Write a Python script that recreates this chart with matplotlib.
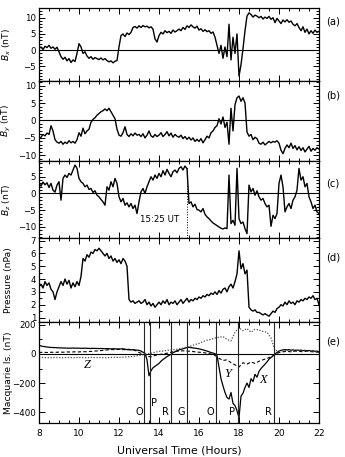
import numpy as np
import matplotlib
matplotlib.use("Agg")
import matplotlib.pyplot as plt
from matplotlib.ticker import MultipleLocator

# ---------------- data ----------------
t_start, t_end, t_step = 8.0, 22.0, 0.1
hours = np.round(np.arange(t_start, t_end + 1e-9, t_step), 2)

bx = [0.5, 1.0, 0.2, 1.2, 0.8, 1.5, 0.6, 1.0, 0.3, 0.9,
      -0.5, -2.0, -2.8, -2.2, -3.3, -2.6, -3.8, -3.0, -3.5, -1.0,
      2.0, 1.0, -1.0, -0.5, -1.8, -2.5, -2.0, -2.8, -2.3, -2.6,
      -2.9, -2.4, -3.0, -2.6, -3.2, -3.6, -3.3, -3.9, -3.4, -3.2,
      1.0, 4.5, 5.0, 4.2, 5.3, 4.8, 5.5, 7.0, 7.3, 6.8,
      7.5, 7.0, 7.6, 7.2, 7.4, 6.9, 7.2, 6.5, 3.5, 2.5,
      4.5, 5.5, 5.0, 6.0, 5.4, 5.8, 5.2, 6.2, 5.6, 6.0,
      6.5, 6.0, 7.0, 6.4, 7.5, 7.0, 7.8, 7.2, 6.8, 7.4,
      6.2, 6.6, 5.8, 6.3, 5.7, 6.0, 5.2, 5.6, 4.0, 1.5,
      -1.0, 1.5, -2.5, 1.0, -2.0, 8.0, -3.0, 4.0, -1.0, 5.0,
      -8.0, -4.5, 0.5, 6.0, 10.5, 11.5, 11.0, 10.2, 10.8, 10.5,
      10.0, 10.4, 9.6, 10.2, 9.8, 10.4, 9.5, 10.0, 8.5, 9.8,
      9.0, 8.2, 9.3, 8.7, 9.4, 8.6, 9.0, 8.0, 7.5, 8.2,
      7.0, 6.0, 7.2, 5.5, 6.5, 5.0, 6.0, 5.2, 6.2, 5.5,
      5.8]

by = [-5.2, -4.8, -4.0, -4.4, -3.6, -4.0, -1.5, -3.0, -5.5, -6.2,
      -6.5, -6.0, -6.8, -6.2, -6.6, -5.8, -6.4, -6.0, -6.5, -5.5,
      -3.5, -4.5, -2.2, -3.8, -3.0, -2.5, -0.5, 0.3, 0.8, 1.5,
      2.0, 2.5, 2.8, 3.3, 2.8, 3.5, 2.5, 1.5, 0.5, -2.5,
      -4.2, -4.5, -3.5, -1.8, -4.0, -4.6, -3.8, -4.4, -3.6, -4.2,
      -4.0, -4.6, -3.8, -5.0, -4.2, -3.0, -4.4, -4.8, -4.0, -4.6,
      -4.2, -3.5, -4.6, -4.0, -3.2, -4.4, -3.6, -4.8, -4.0, -4.5,
      -4.8, -4.2, -5.2, -4.6, -5.4, -4.8, -5.6, -5.0, -6.0, -5.4,
      -6.0, -5.2, -6.4, -5.5, -4.5, -5.0, -3.5, -3.0, -2.0, -1.5,
      0.5, -1.0, 1.0, -2.0, -0.5, -6.8, 3.5, -3.0, 4.5, 6.5,
      7.0, 5.5, 6.5, 5.0, -3.3, -4.5, -4.0, -5.5, -4.8, -5.2,
      -6.5, -6.8, -6.2, -7.0, -6.5, -6.0, -6.4, -6.0, -6.2, -5.8,
      -6.5, -8.5, -9.5, -8.0, -7.0, -7.8, -6.5, -8.0, -7.2, -8.4,
      -7.5, -8.6, -7.8, -9.0, -8.2, -7.4, -8.8, -8.0, -8.5, -7.8,
      -8.2]

bz = [3.0, 2.2, 3.4, 2.6, 3.2, 1.8, 3.0, 1.0, 0.4, 2.5,
      3.5, -2.0, 4.5, 5.5, 4.8, 6.0, 5.5, 7.0, 8.5, 7.5,
      4.5, 3.5, 3.0, 2.0, 2.5, 1.2, 1.5, 0.3, 0.8, -0.5,
      -1.0, -1.8, -2.5, -3.5, 2.0, 1.0, 3.5, 2.0, 4.5, 3.0,
      -1.0, -2.5, -1.5, -3.5, -2.8, -4.0, -3.0, -4.5, -3.5, -6.0,
      -2.5, 0.5, 1.5, 0.0, 2.0, 3.5, 5.0, 4.0, 5.5, 4.5,
      6.0, 5.0, 6.8, 5.5, 7.2, 6.0, 5.0, 6.5, 7.0, 6.2,
      7.5, 8.0, 7.0, 8.2, 7.4, -3.0, -2.5, -4.0, -3.2, -4.8,
      -5.0, -5.5, -4.5, -6.2, -7.0, -7.5, -8.2, -8.8, -9.2, -9.6,
      -10.0, -10.4, -10.6, -10.3, -10.5, 5.5, -9.0, -8.0, -9.5, 7.5,
      -7.5, -9.0, -8.5, -10.5, -12.0, 2.5, 0.5, 1.5, -0.5, 0.8,
      -1.0, -2.0, -1.5, -3.0, -4.0, -3.5, -9.8, -6.5, -7.5, -6.0,
      3.0, 5.5, 2.0, -5.5, -4.0, -3.0, -4.5, -2.0, -1.0, 1.0,
      7.5, 4.0, 5.0, 2.0, 3.0, -1.0, -2.5, -4.5, -3.5, -5.5,
      -6.0]

pressure = [3.4, 3.6, 3.3, 3.8, 3.5, 3.7, 3.2, 3.0, 2.4, 3.0,
            3.4, 3.8, 3.5, 4.0, 3.6, 3.9, 3.3, 3.7, 3.4, 3.8,
            3.5, 4.2, 5.6, 5.4, 5.9, 5.7, 6.1, 6.0, 6.3, 6.2,
            6.4, 6.2, 6.0, 5.8, 6.0, 5.6, 5.8, 5.4, 5.6, 5.3,
            5.5, 5.2, 5.6, 5.4, 5.0, 2.4, 2.2, 2.3, 2.1, 2.2,
            2.3, 2.1, 2.2, 2.4, 2.0, 2.2, 1.9, 2.1, 1.8, 2.0,
            2.2, 2.0, 2.3, 2.1, 2.4, 2.0, 2.2, 2.1, 2.3, 2.0,
            2.2, 2.4, 2.1, 2.3, 2.5, 2.2, 2.4, 2.3, 2.5, 2.4,
            2.6, 2.5, 2.7, 2.6, 2.8, 2.7, 2.9, 2.8, 3.0, 2.8,
            3.1, 2.9, 3.2, 3.3, 3.0, 3.4, 3.6, 3.3, 3.8, 4.4,
            6.2, 4.8, 5.2, 4.4, 4.7, 1.8, 1.6, 1.5, 1.6, 1.4,
            1.4, 1.3, 1.2, 1.3, 1.2, 1.1, 1.3, 1.5, 1.4, 1.7,
            1.8, 2.0, 1.9, 2.2, 2.0, 2.3, 2.1, 2.2, 2.0, 2.3,
            2.2, 2.4, 2.3, 2.5, 2.4, 2.6, 2.5, 2.7, 2.4, 2.5,
            2.0]

# Macquarie Island magnetometer (nT)
mac_x = [60, 55, 52, 50, 48, 46, 45, 44, 44, 43,
         42, 42, 41, 41, 40, 40, 40, 41, 40, 40,
         40, 39, 39, 40, 39, 38, 38, 39, 38, 38,
         37, 38, 37, 36, 37, 36, 35, 36, 35, 35,
         34, 35, 36, 33, 30, 32, 28, 30, 27, 26,
         25, 20, 12, 5, -40, -150, -115, -95, -85, -75,
         -65, -50, -38, -28, -18, -10, -2, 8, 15, 22,
         28, 32, 36, 40, 44, 46, 44, 42, 40, 38,
         35, 32, 28, 24, 20, 15, 10, 6, 2, -10,
         -90, -170, -220, -265, -300, -310, -265, -340, -355, -390,
         -440, -290, -270, -230, -200, -230, -170, -190, -140, -160,
         -120, -100, -85, -70, -55, -35, -25, -12, 0, 10,
         20, 25, 28, 30, 28, 30, 26, 28, 25, 27,
         25, 26, 23, 25, 22, 24, 20, 22, 18, 20,
         15]

hours_e = np.round(np.arange(8.0, 22.0 + 1e-9, 0.2), 2)
mac_y = [10, 12, 10, 12, 11, 13, 12, 14, 13, 15,
         14, 16, 15, 18, 20, 22, 25, 28, 30, 30,
         32, 30, 28, 30, 25, 10, 0, -15, -20, -10,
         -5, 0, 5, 12, 18, 20, 22, 20, 18, 15,
         12, 10, 5, 0, -10, -30, -45, -40, -60, -75,
         -90, -60, -70, -55, -65, -50, -40, -30, -20, -5,
         10, 15, 18, 15, 20, 18, 15, 20, 16, 14,
         12]
mac_z = [-25, -24, -26, -25, -24, -25, -26, -24, -25, -25,
         -24, -25, -26, -24, -25, -24, -25, -26, -24, -23,
         -24, -22, -20, -18, -15, -10, -5, 0, 5, 12,
         18, 20, 25, 28, 30, 35, 40, 48, 55, 65,
         72, 85, 95, 100, 110, 115, 120, 100, 90, 150,
         180, 160, 175, 150, 170, 165, 155, 150, 110, 25,
         20, 22, 25, 20, 18, 22, 25, 20, 18, 15,
         15]

boundary_times = [13.27, 13.53, 14.6, 15.42, 16.87, 17.93, 19.77]
region_labels = ["O", "P", "R", "G", "O", "P", "R"]
region_x = [13.0, 13.77, 14.31, 15.13, 16.55, 17.67, 19.47]
region_y = [-400, -340, -400, -400, -400, -400, -400]

transition_time = 15.42
panel_letters = ["(a)", "(b)", "(c)", "(d)", "(e)"]
ylabels = [r"$B_x$ (nT)", r"$B_y$ (nT)", r"$B_z$ (nT)", "Pressure (nPa)", "Macquarie Is. (nT)"]

# ---------------- figure ----------------
plt.rcParams["font.family"] = ["DejaVu Sans"]
plt.rcParams["mathtext.fontset"] = "dejavusans"
fig = plt.figure(figsize=(3.45, 4.57), dpi=100)
W, H = 345.0, 457.0
left, right = 39 / W, 319 / W
edges = [8, 81, 161, 238, 322, 423]
axes = []
for i in range(5):
    top, bot = edges[i], edges[i + 1]
    ax = fig.add_axes([left, 1 - bot / H, right - left, (bot - top) / H])
    axes.append(ax)

lw = 1.0
ylims = [(-9.5, 13.0), (-11.6, 11.3), (-13.3, 9.7), (0.65, 7.2), (-475, 220)]
ymaj = [5, 5, 5, 1, 200]
ymin = [1, 1, 1, 0.5, 100]
series = [bx, by, bz, pressure]

for i, ax in enumerate(axes):
    ax.set_xlim(8, 22)
    ax.set_ylim(*ylims[i])
    ax.xaxis.set_major_locator(MultipleLocator(2))
    ax.xaxis.set_minor_locator(MultipleLocator(0.5))
    ax.yaxis.set_major_locator(MultipleLocator(ymaj[i]))
    ax.yaxis.set_minor_locator(MultipleLocator(ymin[i]))
    ax.tick_params(which="both", direction="in", top=True, right=True,
                   labelsize=6.2, width=0.7, pad=2)
    ax.tick_params(which="major", length=4.5)
    ax.tick_params(which="minor", length=2.2)
    for s in ax.spines.values():
        s.set_linewidth(0.9)
    if i < 4:
        ax.set_xticklabels([])
        ax.plot(hours, series[i], color="black", lw=lw)
    if i in (0, 1, 2, 4):
        ax.axhline(0, color="black", lw=0.8)
    ax.set_ylabel(ylabels[i], fontsize=6.6, labelpad=2)
    ax.yaxis.set_label_coords(-0.092, 0.5)

# panel (c) transition marker
axes[2].plot([transition_time, transition_time], [ylims[2][0], 8.0],
             color="black", lw=0.7, ls=":")
axes[2].text(14.05, -7.7, "15:25 UT", fontsize=6.2, ha="center", va="center")

# panel (e)
ax = axes[4]
ax.plot(hours, mac_x, color="black", lw=0.9)
ax.plot(hours_e, mac_y, color="black", lw=0.8, ls=(0, (3, 2)))
ax.plot(hours_e, mac_z, color="0.3", lw=0.9, ls=(0, (1, 1.3)))
for bt in boundary_times:
    ax.axvline(bt, color="0.15", lw=0.8)
for lab, xx, yy in zip(region_labels, region_x, region_y):
    ax.text(xx, yy, lab, fontsize=7, ha="center", va="center")
for lab, xx, yy in [("Z", 10.42, -74), ("Y", 17.43, -139), ("X", 19.22, -179)]:
    ax.text(xx, yy, lab, fontsize=9, ha="center", va="center",
            family="Liberation Serif", style="italic")
ax.set_xlabel("Universal Time (Hours)", fontsize=7.8, labelpad=6)
ax.tick_params(axis="x", labelsize=6.6, pad=4)

# panel letters
letter_y = [22, 95, 183, 257, 342]
for lab, yy in zip(panel_letters, letter_y):
    fig.text(333 / W, 1 - yy / H, lab, fontsize=7.2, ha="center", va="center")

fig.savefig("out.png", dpi=100)
